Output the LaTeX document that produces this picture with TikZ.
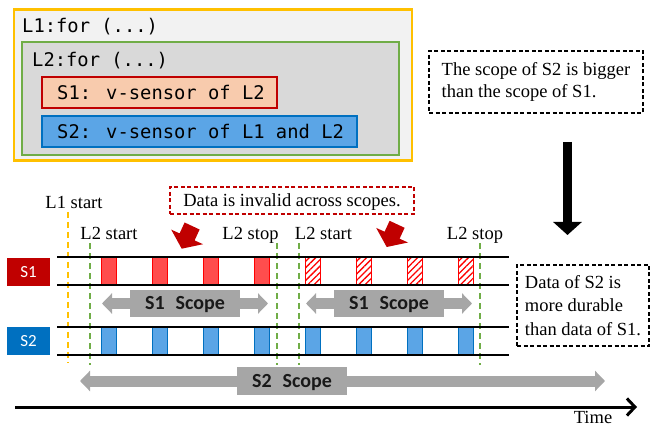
\documentclass[tikz,border=0pt]{standalone}
\usepackage{fontspec}
\setmainfont{Liberation Serif}
\newfontfamily\monofont{DejaVu Sans Mono}[WordSpace={1,0,0}]
\newfontfamily\calfont{Carlito}
\usetikzlibrary{arrows.meta,patterns.meta}
\definecolor{yellowC}{HTML}{FFC000}
\definecolor{greenC}{HTML}{70AD47}
\definecolor{redC}{HTML}{C00000}
\definecolor{blueC}{HTML}{0070C0}
\definecolor{peachC}{HTML}{F8CBAD}
\definecolor{lblueC}{HTML}{5BA5E6}
\definecolor{bredC}{HTML}{FF4D4D}
\definecolor{grayC}{HTML}{A6A6A6}
\definecolor{lgrayC}{HTML}{F2F2F2}
\definecolor{mgrayC}{HTML}{D9D9D9}
\begin{document}
\begin{tikzpicture}[x=1pt,y=-1pt,
  serif/.style={font=\fontsize{18.5}{21.6}\selectfont},
  code/.style={font=\monofont\fontsize{18.8}{22}\selectfont, inner sep=0pt, anchor=west,
    text height=14pt, text depth=0pt},
  codebox/.style={minimum height=31pt, inner sep=0pt, line width=2pt},
  scopebox/.style={fill=grayC, minimum width=110pt, minimum height=27pt, inner sep=0pt,
    font=\calfont\bfseries\fontsize{20}{24}\selectfont, text=black!90,
    text height=13pt, text depth=0pt},
  scopearrow/.style={draw=grayC, line width=11pt,
    {Triangle[length=10pt,width=20pt]}-{Triangle[length=10pt,width=20pt]}},
  lbl/.style={serif, anchor=base, inner sep=0pt},
  notebox/.style={draw=black, line width=1.3pt, dash pattern=on 4pt off 2.5pt,
    align=left, inner sep=0pt},
  sensorlab/.style={text=white, minimum width=43pt, minimum height=28pt, inner sep=0pt,
    font=\calfont\fontsize{17}{20}\selectfont, text height=11pt, text depth=0pt},
  ydash/.style={draw=yellowC, line width=2pt, dash pattern=on 6pt off 4pt},
  gdash/.style={draw=greenC, line width=2pt, dash pattern=on 6pt off 4pt},
  rowline/.style={draw=black, line width=2pt},
  redarrow/.style={fill=redC}
]
\useasboundingbox (0,0) rectangle (650,427);

% ---------- code boxes ----------
\node[draw=yellowC, line width=2.5pt, fill=lgrayC, minimum width=398pt, minimum height=151pt, inner sep=0pt] (L1box) at (213,85) {};
\node[code] (L1txt) at (22,26) {L1:for (...)};
\node[draw=greenC, line width=2pt, fill=mgrayC, minimum width=377pt, minimum height=113pt, inner sep=0pt] (L2box) at (210.5,98.5) {};
\node[code] (L2txt) at (32,60) {L2:for (...)};
\node[codebox, draw=redC, fill=peachC, minimum width=235pt] (s1code) at (159.5,92.5) {};
\node[code] (s1txt) at (57,92.5) {S1: v-sensor of L2};
\node[codebox, draw=blueC, fill=lblueC, minimum width=315pt] (s2code) at (199.5,131.5) {};
\node[code] (s2txt) at (57,131.5) {S2: v-sensor of L1 and L2};

% ---------- notes ----------
\node[notebox, font=\fontsize{18.5}{21.6}\selectfont, minimum width=214pt, minimum height=62pt] (note1) at (536,82)
  {The scope of S2 is bigger\\than the scope of S1.};
\node[notebox, font=\fontsize{18.5}{23.4}\selectfont, minimum width=132pt, minimum height=81pt] (note2) at (583,305.5)
  {Data of S2 is\\more durable\\than data of S1.};
\node[draw=redC, line width=1.4pt, dash pattern=on 4pt off 2.5pt, serif, minimum width=244pt, minimum height=27pt,
  inner sep=0pt, text height=13pt, text depth=0pt] (warn) at (292,200.5) {Data is invalid across scopes.};

% ---------- big black arrow ----------
\coordinate (bt) at (567.5,142);
\coordinate (bb) at (567.5,235);
\draw[line width=9.5pt, -{Triangle[length=13pt,width=28pt]}] (bt) -- (bb);

% ---------- red block arrows ----------
\begin{scope}[shift={(181.7,248.7)}]
  \fill[redarrow] (0,0) -- (-10.5,-19.1) -- (-2.1,-15.3) -- (2.9,-26.2) -- (17.9,-19.2) -- (12.9,-8.3) -- (21.3,-4.5) -- cycle;
\end{scope}
\begin{scope}[shift={(386.7,247)}]
  \fill[redarrow] (0,0) -- (-10.5,-19.1) -- (-2.1,-15.3) -- (2.9,-26.2) -- (17.9,-19.2) -- (12.9,-8.3) -- (21.3,-4.5) -- cycle;
\end{scope}

% ---------- labels ----------
\node[lbl] (l1s) at (74,208.3) {L1 start};
\node[lbl] (l2a) at (109,239.3) {L2 start};
\node[lbl] (l2b) at (250.5,239.3) {L2 stop};
\node[lbl] (l2c) at (323.5,239.3) {L2 start};
\node[lbl] (l2d) at (475,239.3) {L2 stop};

% ---------- dashed verticals ----------
\draw[ydash] (68,212) -- (68,363);
\foreach \x in {90,276.5,298.5,480} \draw[gdash] (\x,243) -- (\x,365);

% ---------- data blocks ----------
\foreach \i in {0,...,3}
  \filldraw[fill=bredC, draw=red, line width=0.6pt] ({101.5+51*\i},257.5) rectangle ++(14.5,28);
\foreach \i in {4,...,7}
  \draw[draw=red, line width=0.8pt, pattern={Lines[angle=45,distance=4.5pt,line width=1.3pt]}, pattern color=red]
    ({101.5+51*\i},257.5) rectangle ++(14.5,28);
\foreach \i in {0,...,7}
  \filldraw[fill=lblueC, draw=blueC, line width=0.8pt] ({101.5+51*\i},327) rectangle ++(14.5,27.5);

% ---------- row lines ----------
\draw[rowline] (57,257.5) -- (509,257.5);
\draw[rowline] (57,285.5) -- (509,285.5);
\draw[rowline] (57,327) -- (509,327);
\draw[rowline] (57,354.5) -- (509,354.5);

% ---------- sensor labels ----------
\node[sensorlab, fill=redC] (s1lab) at (28.5,272) {S1};
\node[sensorlab, fill=blueC] (s2lab) at (28.5,341) {S2};

% ---------- scope arrows ----------
\coordinate (a1l) at (102,303.5); \coordinate (a1r) at (268,303.5);
\coordinate (a2l) at (306,303.5); \coordinate (a2r) at (472,303.5);
\coordinate (a3l) at (80,381);    \coordinate (a3r) at (605,381);
\draw[scopearrow] (a1l) -- (a1r);
\draw[scopearrow] (a2l) -- (a2r);
\draw[scopearrow] (a3l) -- (a3r);
\node[scopebox] (sc1) at (185,303.5) {S1\hspace{11pt}Scope};
\node[scopebox] (sc2) at (389,303.5) {S1\hspace{11pt}Scope};
\node[scopebox, minimum height=28pt] (sc3) at (292,381) {S2\hspace{11pt}Scope};

% ---------- time axis ----------
\coordinate (t0) at (15,407);
\coordinate (t1) at (637,407);
\draw[line width=3pt, -{Straight Barb[length=8pt,width=17pt]}] (t0) -- (t1);
\node[lbl] (time) at (593,423) {Time};
\end{tikzpicture}
\end{document}
